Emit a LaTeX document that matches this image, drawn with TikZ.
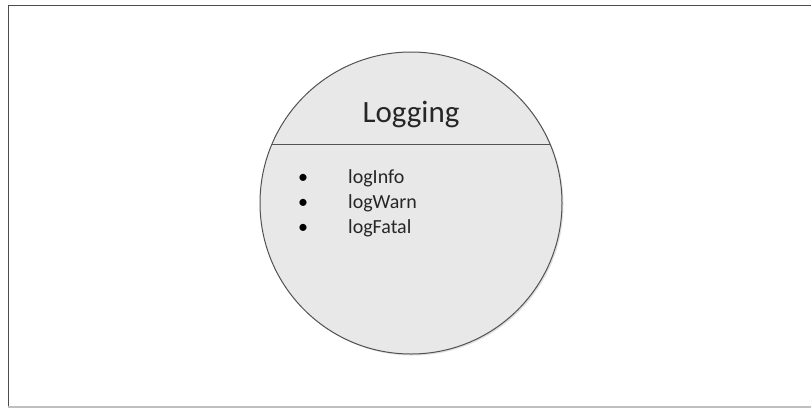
\documentclass[tikz,border=0pt]{standalone}
\usepackage{fontspec}
\setmainfont{Carlito}
\begin{document}
\begin{tikzpicture}[x=1pt,y=-1pt,
  frameline/.style={line width=1.6pt,draw=black!70},
  outline/.style={line width=1pt,draw=black!68},
  item/.style={anchor=base west,inner sep=0pt,font=\fontsize{20}{24}\selectfont,text=black!85},
  bul/.style={inner sep=0pt,font=\fontsize{20}{24}\selectfont,text=black}]
\fill[white] (0,0) rectangle (811,408);
\useasboundingbox (0,0) rectangle (811,408);
% frame
\draw[frameline] (8.5,408) -- (8.5,5.5) -- (811,5.5);
\draw[line width=1.6pt,draw=black!25] (8,407) -- (811,407);
% shadow and circle
\fill[black!12] (412.5,204.5) circle (151);
\node[circle,minimum size=302pt,inner sep=0pt,fill=black!9,outline] (c) at (411,203) {};
\coordinate (l) at (272,144);
\coordinate (r) at (550,144);
\draw[outline] (l) -- (r);
\node[anchor=base,inner sep=0pt,font=\fontsize{31}{36}\selectfont,text=black!85] (t) at (411,122) {Logging};
\node[bul,anchor=base] (b1) at (303,183) {•};
\node[bul,anchor=base] (b2) at (303,208) {•};
\node[bul,anchor=base] (b3) at (303,233) {•};
\node[item] (i1) at (348,183) {logInfo};
\node[item] (i2) at (348,208) {logWarn};
\node[item] (i3) at (348,233) {logFatal};
\end{tikzpicture}
\end{document}
